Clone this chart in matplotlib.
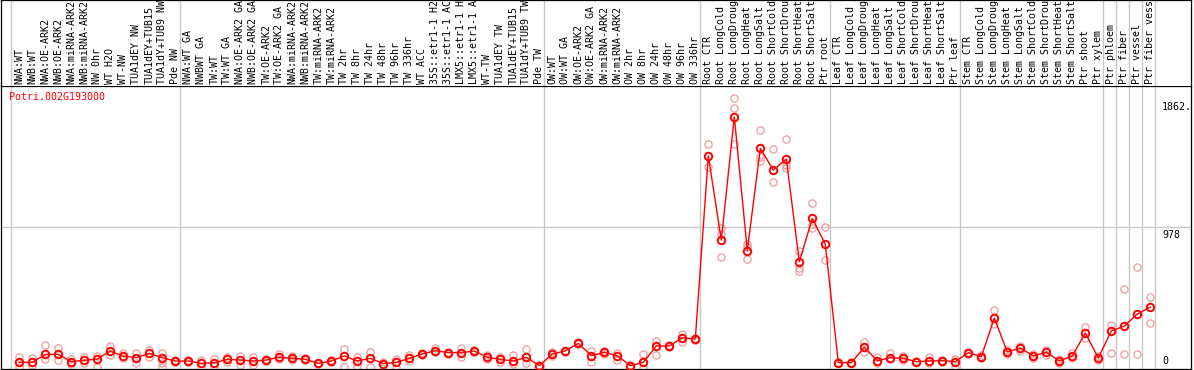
import matplotlib
matplotlib.use("Agg")
import matplotlib.pyplot as plt

gene = "Potri.002G193000"

samples = [
    "NWA:WT", "NWB:WT", "NWA:OE-ARK2", "NWB:OE-ARK2", "NWA:miRNA-ARK2",
    "NWB:miRNA-ARK2", "NW 0hr", "WT H2O", "WT-NW", "TUA1dEY NW",
    "TUA1dEY+TUB15", "TUA1dY+TUB9 NW", "Pde NW",
    "NWA:WT GA", "NWBWT GA", "TW:WT", "TW:WT GA", "NWA:OE-ARK2 GA",
    "NWB:OE-ARK2 GA", "TW:OE-ARK2", "TW:OE-ARK2 GA", "NWA:miRNA-ARK2",
    "NWB:miRNA-ARK2", "TW:miRNA-ARK2", "TW:miRNA-ARK2", "TW 2hr", "TW 8hr",
    "TW 24hr", "TW 48hr", "TW 96hr", "TW 336hr", "WT ACC", "35S::etr1-1 H2",
    "35S::etr1-1 AC", "LMX5::etr1-1 H", "LMX5::etr1-1 A", "WT-TW",
    "TUA1dEY TW", "TUA1dEY+TUB15", "TUA1dY+TUB9 TW", "Pde TW",
    "OW:WT", "OW:WT GA", "OW:OE-ARK2", "OW:OE-ARK2 GA", "OW:miRNA-ARK2",
    "OW:miRNA-ARK2", "OW 2hr", "OW 8hr", "OW 24hr", "OW 48hr", "OW 96hr",
    "OW 336hr",
    "Root CTR", "Root LongCold", "Root LongDroug", "Root LongHeat",
    "Root LongSalt", "Root ShortCold", "Root ShortDrou", "Root ShortHeat",
    "Root ShortSalt", "Ptr root",
    "Leaf CTR", "Leaf LongCold", "Leaf LongDroug", "Leaf LongHeat",
    "Leaf LongSalt", "Leaf ShortCold", "Leaf ShortDrou", "Leaf ShortHeat",
    "Leaf ShortSalt", "Ptr leaf",
    "Stem CTR", "Stem LongCold", "Stem LongDroug", "Stem LongHeat",
    "Stem LongSalt", "Stem ShortCold", "Stem ShortDrou", "Stem ShortHeat",
    "Stem ShortSalt", "Ptr shoot", "Ptr xylem",
    "Ptr phloem", "Ptr fiber", "Ptr vessel", "Ptr fiber vess",
]

means = [
    46, 46, 101, 101, 51, 60, 69, 124, 88, 78, 108, 78, 55,
    55, 39, 44, 67, 62, 55, 62, 81, 74, 67, 39, 55, 90, 55, 74, 37, 46, 74,
    104, 127, 113, 113, 124, 81, 67, 55, 81, 23,
    104, 125, 177, 92, 115, 92, 23, 46, 159, 159, 216, 207,
    1473, 891, 1743, 818, 1525, 1375, 1451, 741, 1041, 862,
    44, 44, 150, 58, 78, 74, 51, 55, 58, 51,
    113, 85, 352, 117, 145, 90, 117, 55, 90, 249, 76,
    263, 297, 380, 428,
]

replicates = [
    [85, 16], [78, 28], [166, 69], [143, 62], [69, 32], [85, 39], [92, 14],
    [159, 97], [108, 74], [108, 39], [131, 85], [108, 39, 16], [62, 48],
    [62, 48], [62, 16], [67, 21], [85, 51], [92, 28], [81, 28], [67, 55],
    [101, 67], [90, 60], [74, 60], [44, 32], [62, 48], [136, 16], [85, 23],
    [120, 16], [51, 25], [67, 9], [97, 55], [110, 97], [143, 120],
    [120, 106], [143, 85], [131, 117], [97, 67], [85, 51], [97, 32],
    [136, 44], [28, 18],
    [120, 90], [124, 120], [185, 170], [124, 51], [124, 104], [113, 62],
    [28, 16], [101, 9], [194, 97], [166, 152], [240, 189], [214, 200],
    [1553, 1398], [972, 772, 930], [1871, 1806, 1553], [862, 760, 840],
    [1651, 1467, 1440], [1520, 1294], [1589, 1387, 1410], [815, 679, 700],
    [1145, 972, 1000], [983, 753],
    [48, 39], [51, 39], [189, 120], [81, 44], [108, 67], [90, 62], [55, 46],
    [81, 39], [62, 51], [67, 9],
    [120, 106], [97, 74], [408, 310], [131, 104], [160, 124], [104, 74],
    [131, 97], [67, 44], [110, 74], [290, 214], [90, 62],
    [304, 110], [553, 104], [705, 104], [498, 318],
]

group_starts = [0, 13, 41, 53, 63, 73, 84, 85, 86, 87, 88]
y_ticks = [1862, 978, 0]
y_tick_labels = ["1862.", "978", "0"]

W, H = 1194, 370
font = dict(family="DejaVu Sans Mono", size=7.2)
grid_c = "#c8c8c8"

fig = plt.figure(figsize=(W / 100, H / 100), dpi=100)
ax = fig.add_axes([1 / W, 1 / H, 1190 / W, 283 / H])
lab = fig.add_axes([1 / W, 284 / H, 1190 / W, 86 / H])

xlim = (-1.408, 90.13)
for a in (ax, lab):
    a.set_xlim(*xlim)
    a.set_xticks([])
    a.set_yticks([])
    for s in a.spines.values():
        s.set_color("black")
        s.set_linewidth(0.9)
    for g in group_starts:
        a.axvline(g - 0.66, color=grid_c, lw=1, zorder=0)

ax.set_ylim(0, 1956)
lab.set_ylim(0, 86)
lab.spines["bottom"].set_visible(False)

ax.axhline(978, color=grid_c, lw=1, zorder=0)

x = list(range(len(means)))
for i, rs in enumerate(replicates):
    ax.plot([i] * len(rs), rs, "o", mfc="none", mec="#ee9a9a", ms=5.2,
            mew=0.9, zorder=2, clip_on=False)
ax.plot(x, means, "-", color="red", lw=1, zorder=3)
ax.plot(x, means, "o", mfc="none", mec="red", ms=5.4, mew=1.4, zorder=4,
        clip_on=False)

for i, s in enumerate(samples):
    lab.text(i, 2, s, rotation=90, ha="center", va="bottom", **font)

ax.annotate(gene, xy=(-0.77, 1), xycoords=("data", "axes fraction"),
            xytext=(0, -4), textcoords="offset points", va="top",
            color="red", **font)

for v, t in zip(y_ticks, y_tick_labels):
    if v == 0:
        ax.annotate(t, xy=(87.9, v), xytext=(0, 2), textcoords="offset points",
                    va="bottom", ha="left", **font)
    else:
        ax.annotate(t, xy=(87.9, v), xytext=(0, -2), textcoords="offset points",
                    va="top", ha="left", **font)

fig.savefig("out.png", dpi=100)
